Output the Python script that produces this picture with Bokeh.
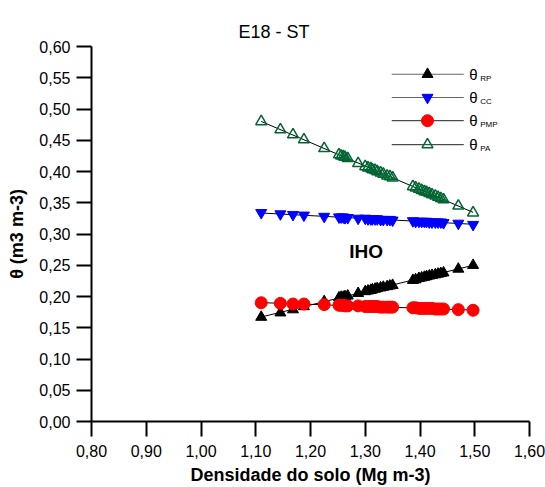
import numpy as np
from bokeh.plotting import figure
from bokeh.models import Label, FixedTicker, CustomJSTickFormatter
from bokeh.embed import file_html
from bokeh.resources import INLINE

# ---------------- data ----------------
density = [1.110, 1.145, 1.168, 1.188, 1.225, 1.252, 1.256, 1.260, 1.263, 1.268,
           1.287, 1.300, 1.305, 1.310, 1.313, 1.318, 1.322, 1.328, 1.333, 1.340,
           1.345, 1.350, 1.387, 1.392, 1.398, 1.403, 1.408, 1.412, 1.417, 1.422,
           1.428, 1.433, 1.438, 1.443, 1.470, 1.497]
theta_rp = [0.167, 0.174, 0.179, 0.184, 0.192, 0.198, 0.199, 0.199, 0.200, 0.201,
            0.205, 0.208, 0.209, 0.210, 0.211, 0.212, 0.213, 0.214, 0.215, 0.216,
            0.217, 0.218, 0.226, 0.227, 0.229, 0.230, 0.231, 0.232, 0.233, 0.234,
            0.235, 0.236, 0.237, 0.238, 0.244, 0.250]
theta_cc = [0.334, 0.332, 0.331, 0.330, 0.328, 0.327, 0.327, 0.327, 0.326, 0.326,
            0.325, 0.325, 0.324, 0.324, 0.324, 0.324, 0.324, 0.323, 0.323, 0.323,
            0.323, 0.322, 0.321, 0.320, 0.320, 0.320, 0.320, 0.320, 0.319, 0.319,
            0.319, 0.319, 0.319, 0.318, 0.317, 0.315]
theta_pmp = [0.190, 0.189, 0.188, 0.188, 0.187, 0.186, 0.186, 0.186, 0.185, 0.185,
             0.185, 0.184, 0.184, 0.184, 0.184, 0.184, 0.184, 0.183, 0.183, 0.183,
             0.183, 0.183, 0.182, 0.182, 0.181, 0.181, 0.181, 0.181, 0.181, 0.181,
             0.180, 0.180, 0.180, 0.180, 0.179, 0.178]
theta_pa = [0.480, 0.467, 0.459, 0.451, 0.437, 0.427, 0.425, 0.424, 0.423, 0.421,
            0.413, 0.408, 0.406, 0.405, 0.403, 0.402, 0.400, 0.398, 0.396, 0.393,
            0.392, 0.390, 0.376, 0.374, 0.372, 0.370, 0.368, 0.367, 0.365, 0.363,
            0.361, 0.359, 0.357, 0.355, 0.345, 0.334]

x_ticks = [0.80, 0.90, 1.00, 1.10, 1.20, 1.30, 1.40, 1.50, 1.60]
y_ticks = [0.00, 0.05, 0.10, 0.15, 0.20, 0.25, 0.30, 0.35, 0.40, 0.45, 0.50, 0.55, 0.60]

title_text = "E18 - ST"
x_label = "Densidade do solo (Mg m-3)"
y_label = "θ (m3 m-3)"
annot_text = "IHO"
series_sub = ["RP", "CC", "PMP", "PA"]

FONT = "Liberation Sans"

p = figure(width=545, height=487, output_backend="svg", toolbar_location=None,
           title=title_text, x_range=(0.8, 1.6), y_range=(0.0, 0.6),
           min_border_left=91, min_border_right=16, min_border_top=46,
           min_border_bottom=64)
p.outline_line_color = None
p.xgrid.visible = False
p.ygrid.visible = False

p.title.text_font = FONT
p.title.text_font_size = "18px"
p.title.text_font_style = "normal"
p.title.text_color = "black"
p.title.align = "left"
p.title.offset = 147
p.title.standoff = 10

fmt = CustomJSTickFormatter(code="return tick.toFixed(2).replace('.', ',');")
for ax, ticks, standoff in ((p.xaxis[0], x_ticks, 8), (p.yaxis[0], y_ticks, 6)):
    ax.ticker = FixedTicker(ticks=ticks)
    ax.formatter = fmt
    ax.axis_line_width = 2
    ax.axis_line_color = "black"
    ax.major_tick_line_width = 2
    ax.major_tick_line_color = "black"
    ax.major_tick_in = 0
    ax.major_tick_out = 15
    ax.minor_tick_line_color = None
    ax.major_label_text_font = FONT
    ax.major_label_text_font_size = "16px"
    ax.major_label_text_color = "black"
    ax.major_label_standoff = standoff
    ax.axis_label_text_font = FONT
    ax.axis_label_text_font_size = "18px"
    ax.axis_label_text_font_style = "bold"
    ax.axis_label_text_color = "black"

p.xaxis[0].axis_label = x_label
p.xaxis[0].axis_label_standoff = 5
p.yaxis[0].axis_label = y_label
p.yaxis[0].axis_label_standoff = 9

xs = np.array(density)

def fit_line(ys, color):
    k, b = np.polyfit(xs, np.array(ys), 1)
    lx = np.array([xs.min(), xs.max()])
    p.line(lx, k * lx + b, line_color=color, line_width=1)

# RP
fit_line(theta_rp, "black")
p.scatter(density, theta_rp, marker="triangle", size=11, fill_color="black",
          line_color="black")
# CC
fit_line(theta_cc, "black")
p.scatter(density, theta_cc, marker="inverted_triangle", size=11, fill_color="#0000FF",
          line_color="#0000FF")
# PMP
fit_line(theta_pmp, "black")
p.scatter(density, theta_pmp, marker="circle", size=12, fill_color="#FF0000",
          line_color="#FF0000")
# PA
fit_line(theta_pa, "black")
p.scatter(density, theta_pa, marker="triangle", size=11, fill_color=None,
          line_color="#006633", line_width=1.5)

# ---------------- legend (manual, with subscripts) ----------------
leg_y = [0.5556, 0.5184, 0.4813, 0.4429]
leg_line_col = ["#666666", "#666666", "#222222", "#222222"]
leg_markers = [dict(marker="triangle", size=11, fill_color="black", line_color="black"),
               dict(marker="inverted_triangle", size=11, fill_color="#0000FF", line_color="#0000FF"),
               dict(marker="circle", size=12, fill_color="#FF0000", line_color="#FF0000"),
               dict(marker="triangle", size=11, fill_color=None, line_color="#006633", line_width=1.5)]
for yy, lc, mk, sub in zip(leg_y, leg_line_col, leg_markers, series_sub):
    p.line([1.3484, 1.480], [yy, yy], line_color=lc, line_width=1)
    p.scatter([1.4137], [yy], **mk)
    p.add_layout(Label(x=1.490, y=yy, text="θ", text_font=FONT, text_font_size="15px",
                       text_baseline="middle", text_align="left", text_color="black"))
    p.add_layout(Label(x=1.5100, y=yy - 0.0065, text=sub, text_font=FONT,
                       text_font_size="8px", text_baseline="middle", text_align="left",
                       text_color="black"))

# ---------------- annotation ----------------
p.add_layout(Label(x=1.3018, y=0.2727, text=annot_text, text_font=FONT,
                   text_font_size="19px", text_font_style="bold", text_align="center",
                   text_baseline="middle", text_color="black"))

open("out.html", "w").write(file_html(p, INLINE))
